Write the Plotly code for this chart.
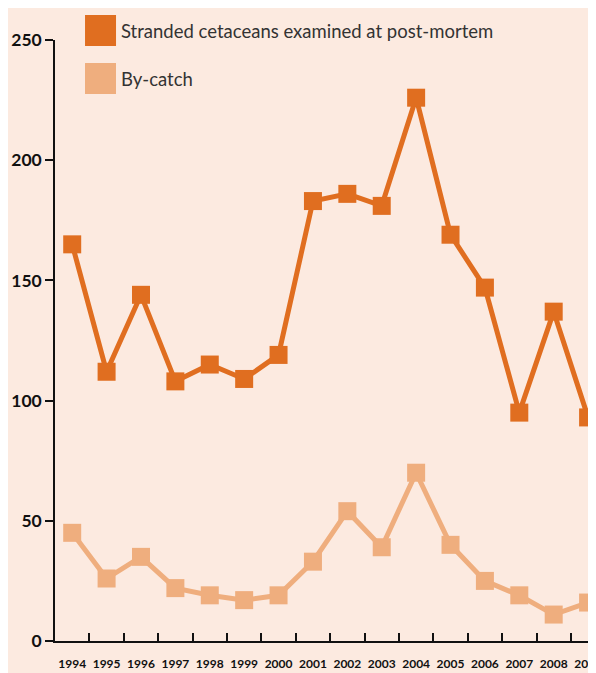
import plotly.graph_objects as go

years = [str(y) for y in range(1994, 2010)]
stranded = [165, 112, 144, 108, 115, 109, 119, 183, 186, 181, 226, 169, 147, 95, 137, 93]
bycatch = [45, 26, 35, 22, 19, 17, 19, 33, 54, 39, 70, 40, 25, 19, 11, 16]

series_names = ["Stranded cetaceans examined at post-mortem", "By-catch"]
dark = "#E06E20"
light = "#EFAE7E"
bg = "#FCEAE0"

fig = go.Figure()
fig.add_trace(go.Scatter(x=years, y=bycatch, mode="lines+markers", name=series_names[1],
                         line=dict(color=light, width=5),
                         marker=dict(symbol="square", size=18, color=light)))
fig.add_trace(go.Scatter(x=years, y=stranded, mode="lines+markers", name=series_names[0],
                         line=dict(color=dark, width=5),
                         marker=dict(symbol="square", size=18, color=dark)))

# legend drawn by hand: big square swatches with text
for i, (name, col) in enumerate(zip(series_names, [dark, light])):
    y0 = 1.0416 - i * 0.0799
    fig.add_shape(type="rect", xref="paper", yref="paper",
                  x0=0.0555, x1=0.1128, y0=y0 - 0.0516, y1=y0,
                  fillcolor=col, line_width=0, layer="above")
    fig.add_annotation(x=0.118, y=y0 - 0.0258, xref="paper", yref="paper",
                       text=name, showarrow=False, xanchor="left", yanchor="middle",
                       font=dict(family="Lato", size=18.5, color="#333333"))

# page body adds an 8px offset, so size and margins are trimmed to compensate
fig.update_layout(
    width=588, height=665,
    margin=dict(l=47, r=0, t=32, b=32),
    paper_bgcolor=bg, plot_bgcolor=bg,
    showlegend=False,
    font=dict(family="Lato", color="#111111"),
)
fig.update_xaxes(type="category", range=[-0.5, 15.23], tickson="boundaries",
                 ticks="inside", ticklen=8, tickwidth=1.5, tickcolor="#111111",
                 showline=True, linecolor="#111111", linewidth=1.5,
                 showgrid=False, zeroline=False, automargin=False, tickangle=0,
                 tickfont=dict(size=12, weight="bold"), ticklabelstandoff=11)
fig.update_yaxes(range=[0, 250], tickvals=[0, 50, 100, 150, 200, 250],
                 ticks="outside", ticklen=8, tickwidth=1.5, tickcolor="#111111",
                 showline=True, linecolor="#111111", linewidth=1.5,
                 showgrid=False, zeroline=False, automargin=False,
                 tickfont=dict(size=17.5, weight="bold"))

fig.write_html("out.html")
